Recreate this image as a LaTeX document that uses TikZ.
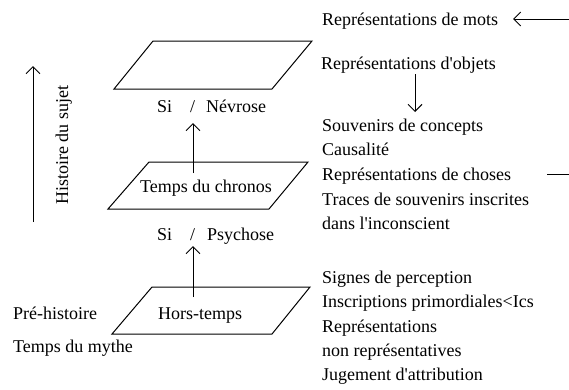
\documentclass[tikz,border=0pt]{standalone}
\usepackage{fontspec}
\setmainfont{Liberation Serif}
\usetikzlibrary{arrows.meta}
\newcommand{\apos}{\textquotesingle}
\begin{document}
\begin{tikzpicture}[x=1pt,y=-1pt,
  txt/.style={anchor=base west, inner sep=0pt, font=\fontsize{18}{21}\selectfont},
  arr/.style={-{Straight Barb[length=7pt,width=14pt]}, line width=1pt},
  plane/.style={draw, line width=1pt}]
\useasboundingbox (0,0) rectangle (569,389);
% planes
\draw[plane] (153,41) -- (312,41) -- (272,89) -- (114,89) -- cycle;
\draw[plane] (149,162) -- (308,162) -- (269,209) -- (108,209) -- cycle;
\draw[plane] (152,287) -- (310,287) -- (272,334) -- (112,334) -- cycle;
% centre texts
\node[txt] (si1) at (157,112) {Si};
\node[txt] (sl1) at (190,112) {/};
\node[txt] (nev) at (206,112) {Névrose};
\node[txt] (chronos) at (140,192) {Temps du chronos};
\node[txt] (si2) at (157,240) {Si};
\node[txt] (sl2) at (190,240) {/};
\node[txt] (psy) at (207,240) {Psychose};
\node[txt] (hors) at (158,319) {Hors-temps};
% left texts
\node[txt] (pre) at (13,319) {Pré-histoire};
\node[txt] (mythe) at (13,352) {Temps du mythe};
\node[anchor=base, inner sep=0pt, rotate=90, font=\fontsize{18}{21}\selectfont] (hist) at (68,145) {Histoire du sujet};
% right texts
\node[txt] (mots) at (322,25) {Représentations de mots};
\node[txt] (objets) at (321,69) {Représentations d\apos objets};
\node[txt] (souv) at (322,131) {Souvenirs de concepts};
\node[txt] (caus) at (322,155) {Causalité};
\node[txt] (choses) at (322,180) {Représentations de choses};
\node[txt] (traces) at (322,205) {Traces de souvenirs inscrites};
\node[txt] (dans) at (322,229) {dans l\apos inconscient};
\node[txt] (signes) at (322,283) {Signes de perception};
\node[txt] (inscr) at (322,307) {Inscriptions primordiales<Ics};
\node[txt] (repr) at (322,332) {Représentations};
\node[txt] (nonrep) at (322,356) {non représentatives};
\node[txt] (jug) at (322,380) {Jugement d\apos attribution};
% connector end points
\coordinate (histA) at (33,222);
\coordinate (histB) at (33,66);
\coordinate (c1a) at (193,173);
\coordinate (c1b) at (193,123);
\coordinate (c2a) at (193,297);
\coordinate (c2b) at (193,246);
\coordinate (oA) at (415,74);
\coordinate (oB) at (415,112);
\coordinate (mA) at (569,19);
\coordinate (mB) at (513,19);
\coordinate (dA) at (547,174);
\coordinate (dB) at (569,174);
% connectors
\draw[arr] (histA) -- (histB);
\draw[arr] (c1a) -- (c1b);
\draw[arr] (c2a) -- (c2b);
\draw[arr] (oA) -- (oB);
\draw[arr] (mA) -- (mB);
\draw[line width=1pt] (dA) -- (dB);
\end{tikzpicture}
\end{document}
